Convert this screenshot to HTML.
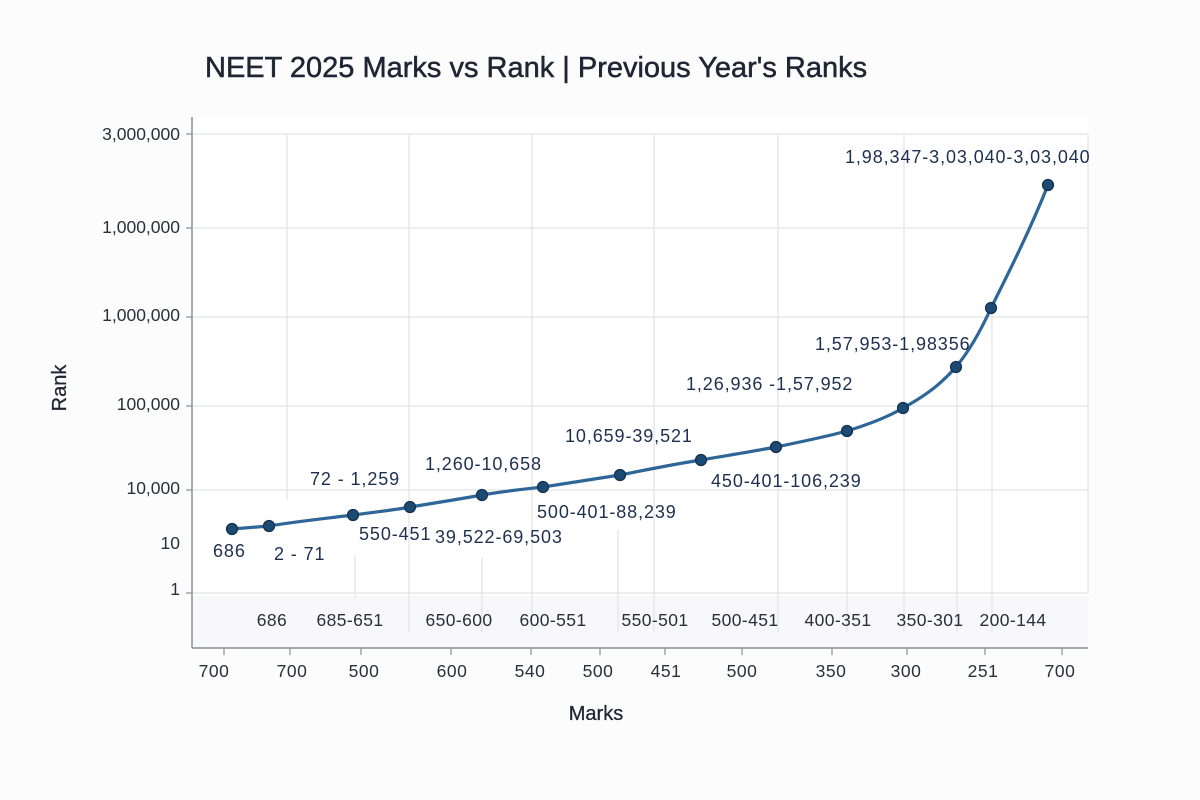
<!DOCTYPE html>
<html><head><meta charset="utf-8"><style>
html,body{margin:0;padding:0;background:#fcfcfd;}
svg{display:block;font-family:"Liberation Sans","DejaVu Sans",sans-serif;}
</style></head><body>
<svg width="1200" height="800" viewBox="0 0 1200 800" xmlns="http://www.w3.org/2000/svg">
<rect width="1200" height="800" fill="#fcfcfd"/>
<rect x="193" y="118" width="895" height="530" fill="#ffffff"/>
<rect x="193" y="596" width="895" height="52" fill="#f8f8fa"/>
<text x="205" y="77" font-size="29" fill="#1f2633" stroke="#1f2633" stroke-width="0.5">NEET 2025 Marks vs Rank | Previous Year's Ranks</text>
<g stroke="#e2e3e7" stroke-width="1.2">
<line x1="193" y1="134" x2="1088" y2="134"/>
<line x1="193" y1="228" x2="1088" y2="228"/>
<line x1="193" y1="317" x2="1088" y2="317"/>
<line x1="193" y1="406" x2="1088" y2="406"/>
<line x1="193" y1="490" x2="1088" y2="490"/>
<line x1="193" y1="593" x2="1088" y2="593"/>
<line x1="287" y1="134" x2="287" y2="500"/>
<line x1="409" y1="134" x2="409" y2="632"/>
<line x1="532" y1="134" x2="532" y2="632"/>
<line x1="654" y1="134" x2="654" y2="632"/>
<line x1="778" y1="134" x2="778" y2="632"/>
<line x1="904" y1="134" x2="904" y2="632"/>
<line x1="1088" y1="134" x2="1088" y2="593"/>
<line x1="957" y1="370" x2="957" y2="632"/>
<line x1="992" y1="310" x2="992" y2="632"/>
<line x1="847" y1="440" x2="847" y2="632"/>
<line x1="355" y1="555" x2="355" y2="598"/>
<line x1="482" y1="557" x2="482" y2="632"/>
<line x1="618" y1="530" x2="618" y2="632"/>
</g>
<line x1="192" y1="117" x2="192" y2="648" stroke="#8a8e98" stroke-width="1.5"/>
<line x1="192" y1="648" x2="1088" y2="648" stroke="#8a8e98" stroke-width="1.5"/>
<g stroke="#8a8e98" stroke-width="1.2">
<line x1="186" y1="134" x2="192" y2="134"/><line x1="186" y1="228" x2="192" y2="228"/>
<line x1="186" y1="317" x2="192" y2="317"/><line x1="186" y1="406" x2="192" y2="406"/>
<line x1="186" y1="490" x2="192" y2="490"/><line x1="186" y1="593" x2="192" y2="593"/>
<line x1="224" y1="648" x2="224" y2="655"/><line x1="290" y1="648" x2="290" y2="655"/>
<line x1="361" y1="648" x2="361" y2="655"/><line x1="451" y1="648" x2="451" y2="655"/>
<line x1="531" y1="648" x2="531" y2="655"/><line x1="600" y1="648" x2="600" y2="655"/>
<line x1="665" y1="648" x2="665" y2="655"/><line x1="742" y1="648" x2="742" y2="655"/>
<line x1="832" y1="648" x2="832" y2="655"/><line x1="907" y1="648" x2="907" y2="655"/>
<line x1="985" y1="648" x2="985" y2="655"/><line x1="1062" y1="648" x2="1062" y2="655"/>
</g>
<g font-size="17.5" fill="#2a2f3a" text-anchor="end">
<text x="180" y="140">3,000,000</text>
<text x="180" y="233">1,000,000</text>
<text x="180" y="321">1,000,000</text>
<text x="180" y="410">100,000</text>
<text x="180" y="494">10,000</text>
<text x="180" y="549">10</text>
<text x="180" y="595">1</text>
</g>
<g font-size="17.5" fill="#2a2f3a" text-anchor="middle" letter-spacing="0.5">
<text x="214" y="677">700</text><text x="292" y="677">700</text>
<text x="364" y="677">500</text><text x="452" y="677">600</text>
<text x="530" y="677">540</text><text x="598" y="677">500</text>
<text x="666" y="677">451</text><text x="742" y="677">500</text>
<text x="831" y="677">350</text><text x="906" y="677">300</text>
<text x="983" y="677">251</text><text x="1060" y="677">700</text>
</g>
<g font-size="17.5" fill="#2a2f3a" text-anchor="middle" letter-spacing="0.4">
<text x="272" y="626">686</text><text x="350" y="626">685-651</text>
<text x="459" y="626">650-600</text><text x="553" y="626">600-551</text>
<text x="655" y="626">550-501</text><text x="745" y="626">500-451</text>
<text x="838" y="626">400-351</text><text x="930" y="626">350-301</text>
<text x="1013" y="626">200-144</text>
</g>
<text x="596" y="720" font-size="20" fill="#1f2633" text-anchor="middle" stroke="#1f2633" stroke-width="0.3">Marks</text>
<text x="66" y="388" font-size="20" fill="#1f2633" text-anchor="middle" stroke="#1f2633" stroke-width="0.3" transform="rotate(-90 66 388)">Rank</text>
<path d="M232,529 L269,526 C300,521 330,518 353,515 C375,512 395,510 410,507 C435,503 460,499 482,495 C505,491 525,489 543,487 C570,483 595,479 620,475 C650,469 675,464 701,460 C730,455 755,451 776,447 C800,442 825,437 847,431 C870,424 888,417 903,408 C925,396 940,385 956,367 C970,350 982,328 991,308 C1010,270 1030,230 1048,185" fill="none" stroke="#2f6698" stroke-width="3.2"/>
<g fill="#1d4a72" stroke="#12304d" stroke-width="1.2">
<circle cx="232" cy="529" r="5.5"/><circle cx="269" cy="526" r="5.5"/>
<circle cx="353" cy="515" r="5.5"/><circle cx="410" cy="507" r="5.5"/>
<circle cx="482" cy="495" r="5.5"/><circle cx="543" cy="487" r="5.5"/>
<circle cx="620" cy="475" r="5.5"/><circle cx="701" cy="460" r="5.5"/>
<circle cx="776" cy="447" r="5.5"/><circle cx="847" cy="431" r="5.5"/>
<circle cx="903" cy="408" r="5.5"/><circle cx="956" cy="367" r="5.5"/>
<circle cx="991" cy="308" r="5.5"/><circle cx="1048" cy="185" r="5.5"/>
</g>
<g font-size="18" fill="#1e3050" letter-spacing="0.9">
<text x="213" y="557">686</text>
<text x="274" y="560">2 - 71</text>
<text x="310" y="485">72 - 1,259</text>
<text x="359" y="540">550-451</text>
<text x="425" y="470">1,260-10,658</text>
<text x="435" y="543">39,522-69,503</text>
<text x="537" y="518">500-401-88,239</text>
<text x="565" y="442">10,659-39,521</text>
<text x="686" y="390">1,26,936 -1,57,952</text>
<text x="711" y="487">450-401-106,239</text>
<text x="815" y="350">1,57,953-1,98356</text>
<text x="845" y="163">1,98,347-3,03,040-3,03,040</text>
</g>
</svg>
</body></html>
